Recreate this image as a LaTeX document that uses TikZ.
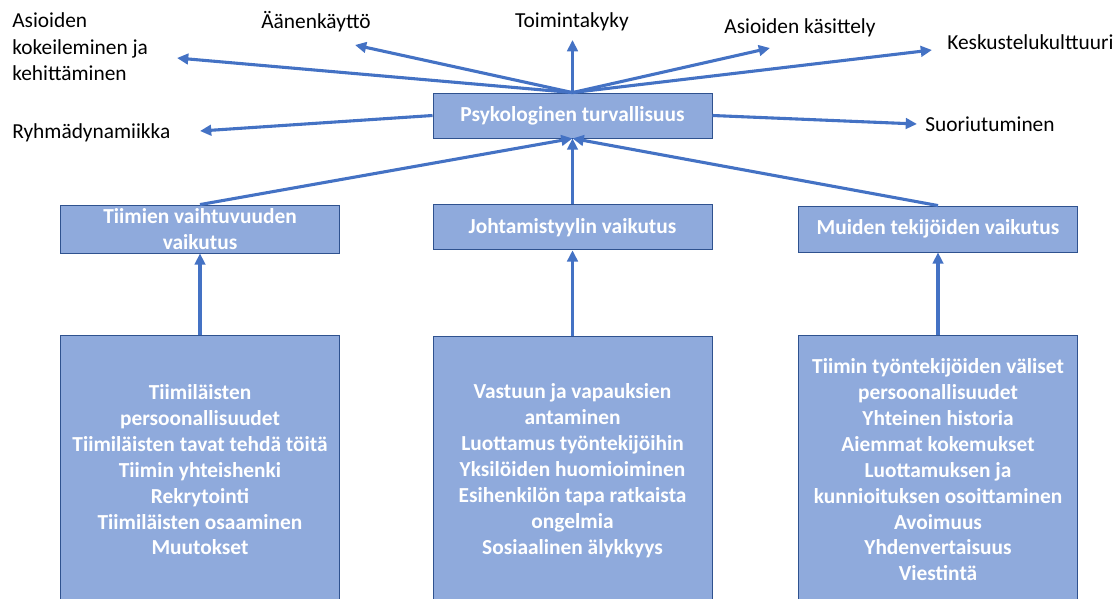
\documentclass[tikz,border=0pt]{standalone}
\usepackage{fontspec}
\setmainfont{Carlito}
\usepackage{xcolor}
\usetikzlibrary{positioning,arrows.meta}

\definecolor{boxfill}{HTML}{8FAADC}
\definecolor{boxline}{HTML}{2F528F}
\definecolor{arrblue}{HTML}{4472C4}

\begin{document}
\begin{tikzpicture}[
  x=0.025cm, y=-0.025cm,
  box/.style={draw=boxline, line width=0.6pt, fill=boxfill, text=white, font=\fontsize{15.2}{18.4}\selectfont\bfseries, align=center, minimum width=6.975cm, inner sep=1pt},
  lowbox/.style={box, minimum height=6.7cm, anchor=north},
  lbl/.style={font=\fontsize{15.2}{18.8}\selectfont, text=black, inner sep=0pt},
  arr/.style={-{Triangle[length=8pt, width=7.5pt]}, line width=2.2pt, color=arrblue},
  >=Triangle
]

\clip (0,0) rectangle (1116,598);

% ── Central node ─────────────────────────────────────────────
\node[box, minimum height=1.125cm] (psy) at (572.5,115.5) {Psykologinen turvallisuus};

% ── Middle row ───────────────────────────────────────────────
\node[box, minimum height=1.2cm]  (vaihtu) at (200,229) {Tiimien vaihtuvuuden\\vaikutus};
\node[box, minimum height=1.125cm, below=1.65cm of psy] (johto) {Johtamistyylin vaikutus};
\node[box, minimum height=1.15cm] (muut) at (938,229) {Muiden tekijöiden vaikutus};

% ── Bottom row ───────────────────────────────────────────────
\node[lowbox, below=2.05cm of vaihtu] (vaihtuLow) {%
  Tiimiläisten\\persoonallisuudet\\Tiimiläisten tavat tehdä töitä\\Tiimin yhteishenki\\Rekrytointi\\Tiimiläisten osaaminen\\Muutokset};
\node[lowbox, below=2.15cm of johto] (johtoLow) {%
  Vastuun ja vapauksien\\antaminen\\Luottamus työntekijöihin\\Yksilöiden huomioiminen\\Esihenkilön tapa ratkaista\\ongelmia\\Sosiaalinen älykkyys};
\node[lowbox, below=2.075cm of muut] (muutLow) {%
  Tiimin työntekijöiden väliset\\persoonallisuudet\\Yhteinen historia\\Aiemmat kokemukset\\Luottamuksen ja\\kunnioituksen osoittaminen\\Avoimuus\\Yhdenvertaisuus\\Viestintä};

% ── Outcome labels ───────────────────────────────────────────
\node[lbl, align=left, anchor=west] (kokeil) at (12,47) {Asioiden\\kokeileminen ja\\kehittäminen};
\node[lbl] (aani)  at (316,22) {Äänenkäyttö};
\node[lbl] (toimi) at (572,22) {Toimintakyky};
\node[lbl] (kasit) at (800,28) {Asioiden käsittely};
\node[lbl, anchor=west] (kesku) at (947,42)  {Keskustelukulttuuri};
\node[lbl, anchor=west] (ryhma) at (12,133)  {Ryhmädynamiikka};
\node[lbl, anchor=west] (suori) at (925,124) {Suoriutuminen};

% ── Arrow tips near the labels ───────────────────────────────
\coordinate (kokeilTip) at (177,58);
\coordinate (aaniTip)   at (355,45);
\coordinate (toimiTip)  at (572.5,40);
\coordinate (kasitTip)  at (770,48);
\coordinate (keskuTip)  at (932,50);
\coordinate (ryhmaTip)  at (200,131);
\coordinate (suoriTip)  at (917,124);

% ── Outgoing arrows ──────────────────────────────────────────
\draw[arr] (psy.north) -- (kokeilTip);
\draw[arr] (psy.north) -- (aaniTip);
\draw[arr] (psy.north) -- (toimiTip);
\draw[arr] (psy.north) -- (kasitTip);
\draw[arr] (psy.north) -- (keskuTip);
\draw[arr] (psy.west)  -- (ryhmaTip);
\draw[arr] (psy.east)  -- (suoriTip);

% ── Incoming arrows ──────────────────────────────────────────
\draw[arr] (vaihtu.north) -- (psy.south);
\draw[arr] (johto.north)  -- (psy.south);
\draw[arr] (muut.north)   -- (psy.south);

\draw[arr] (vaihtuLow.north) -- (vaihtu.south);
\draw[arr] (johtoLow.north)  -- (johto.south);
\draw[arr] (muutLow.north)   -- (muut.south);

\end{tikzpicture}
\end{document}
